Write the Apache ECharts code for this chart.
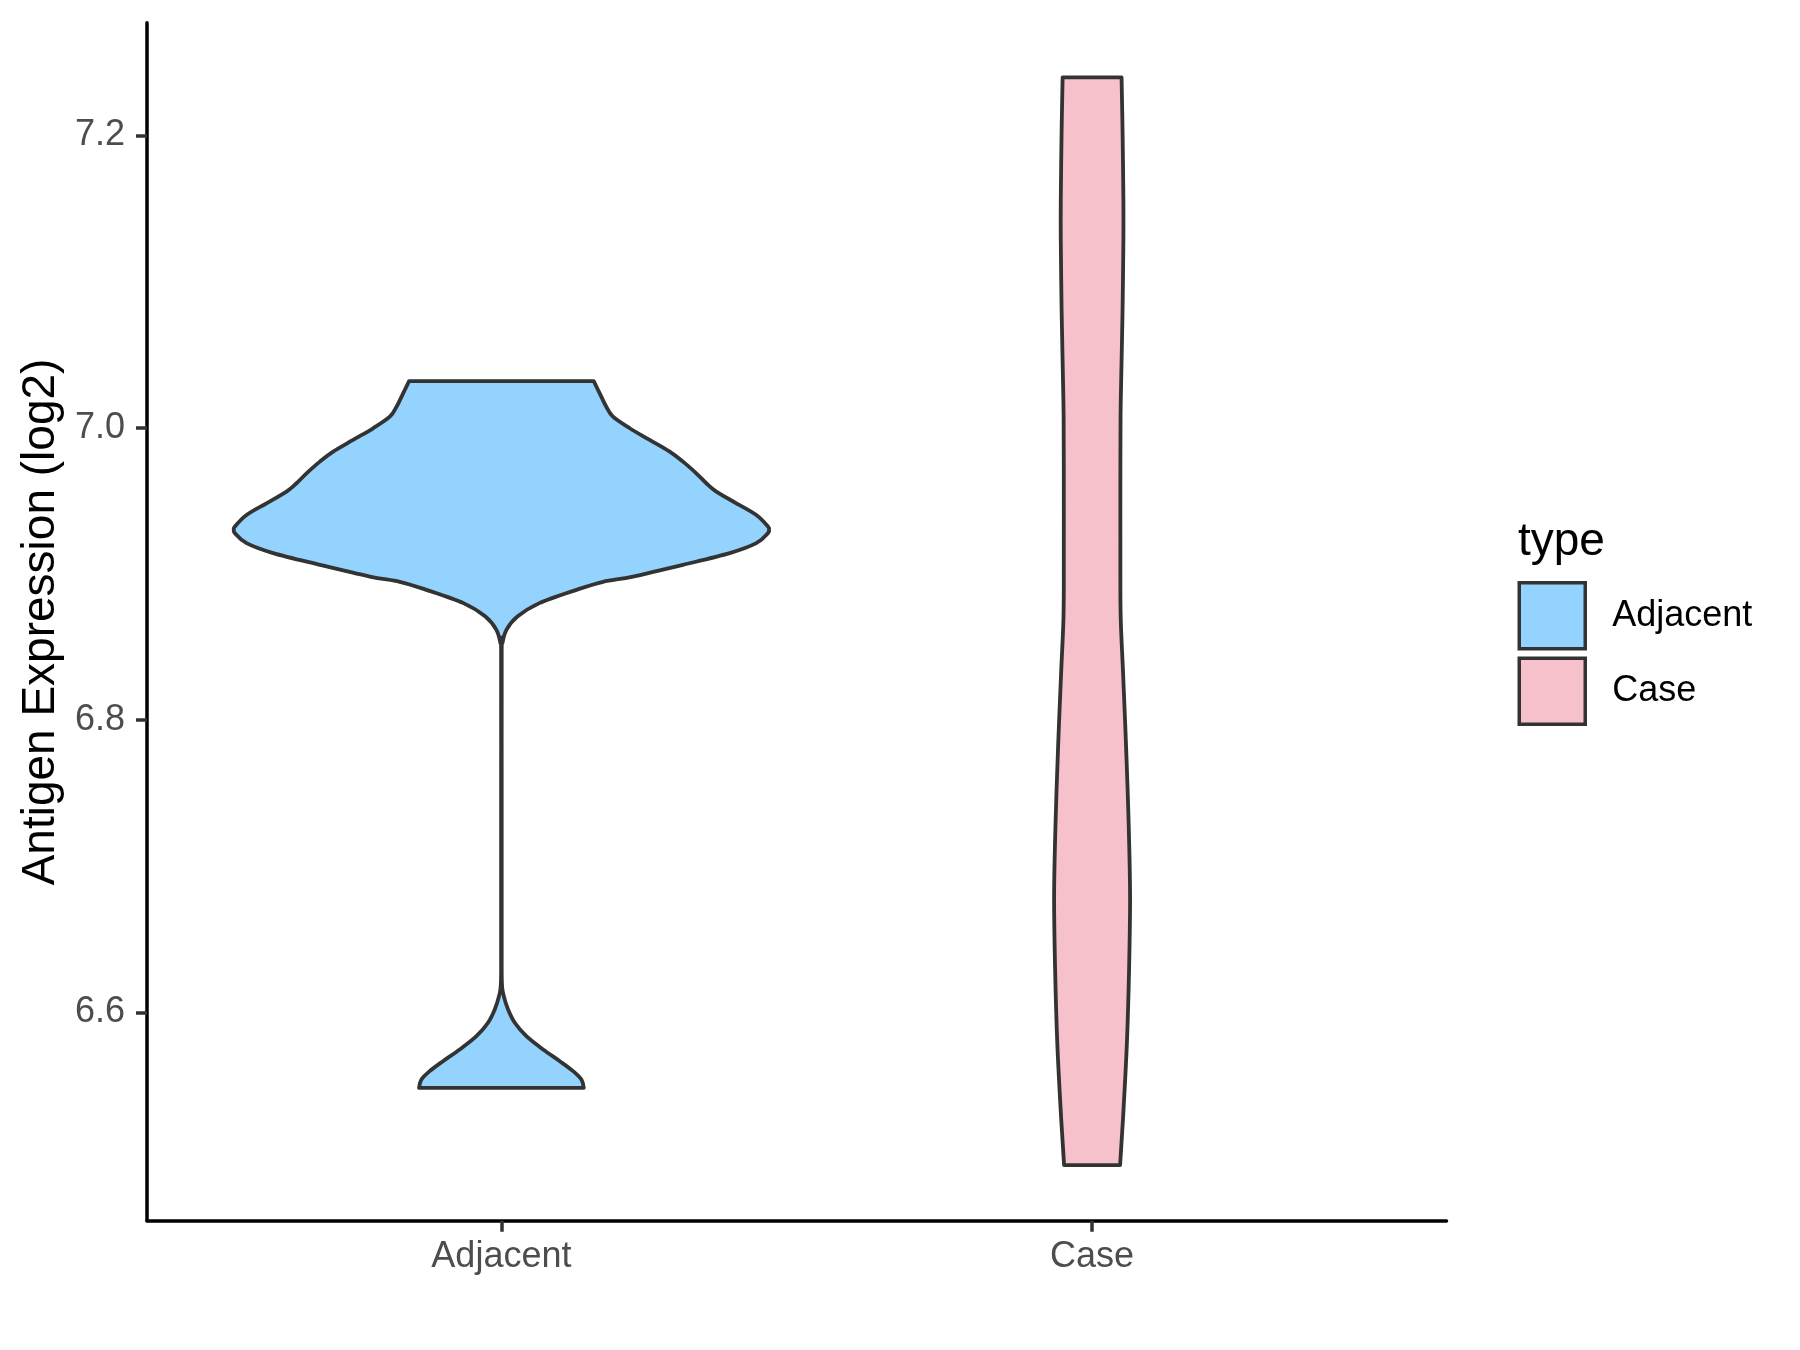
<!DOCTYPE html>
<html>
<head>
<meta charset="utf-8">
<script src="https://cdn.jsdelivr.net/npm/echarts@6/dist/echarts.min.js"></script>
<style>
html,body{margin:0;padding:0;background:#fff;}
#chart{width:1800px;height:1350px;}
</style>
</head>
<body>
<div id="chart"></div>
<script>
// ---- data ----
const categories = ['Adjacent', 'Case'];
const yTicks = [6.6, 6.8, 7.0, 7.2];
const yTitle = 'Antigen Expression (log2)';
const legendTitle = 'type';

// Violin profiles: expression value and half-width (in category units)
const adjacentValues = [7.0319, 7.0235, 7.0143, 7.0075, 6.9996, 6.9916, 6.9836, 6.9768, 6.9688, 6.9620,
  6.9563, 6.9483, 6.9403, 6.9324, 6.9301, 6.9279, 6.9210, 6.9142, 6.9062, 6.8982,
  6.8946, 6.8891, 6.8800, 6.8708, 6.8617, 6.8526, 6.8480, 6.7500, 6.6500, 6.6206,
  6.6112, 6.6021, 6.5930, 6.5838, 6.5747, 6.5667, 6.5599, 6.5542, 6.5485];
const adjacentWidths = [0.1563, 0.1664, 0.1776, 0.1889, 0.2172, 0.2511, 0.2849, 0.3074, 0.3299, 0.3469,
  0.3638, 0.3977, 0.4315, 0.4513, 0.4529, 0.4513, 0.4315, 0.3865, 0.3074, 0.2228,
  0.1720, 0.1270, 0.0643, 0.0271, 0.0085, 0.0017, 0.0005, 0.0005, 0.0005, 0.0008,
  0.0041, 0.0113, 0.0227, 0.0423, 0.0706, 0.0989, 0.1214, 0.1354, 0.1395];

const caseValues = [7.2396, 7.2027, 7.1556, 7.1283, 7.0804, 7.0435, 7.0073, 6.9581, 6.9096, 6.8707,
  6.8317, 6.7812, 6.7306, 6.6800, 6.6295, 6.5789, 6.5284, 6.4956];
const caseWidths = [0.0499, 0.0516, 0.0530, 0.0530, 0.0516, 0.0498, 0.0482, 0.0479, 0.0479, 0.0484,
  0.0525, 0.0576, 0.0618, 0.0643, 0.0626, 0.0589, 0.0525, 0.0474];

const fills = ['#93D3FE', '#F7C1CB'];
const FONT = '"Liberation Sans", Arial, Helvetica, sans-serif';

// Smooth curve (Catmull-Rom -> cubic Bezier) through already-projected pixel points
function curveThrough(pts) {
  let d = '';
  for (let i = 0; i < pts.length - 1; i++) {
    const p0 = pts[Math.max(0, i - 1)], p1 = pts[i], p2 = pts[i + 1], p3 = pts[Math.min(pts.length - 1, i + 2)];
    const c1 = [p1[0] + (p2[0] - p0[0]) / 6, p1[1] + (p2[1] - p0[1]) / 6];
    const c2 = [p2[0] - (p3[0] - p1[0]) / 6, p2[1] - (p3[1] - p1[1]) / 6];
    d += ' C' + c1[0].toFixed(2) + ' ' + c1[1].toFixed(2) + ' ' + c2[0].toFixed(2) + ' ' + c2[1].toFixed(2) + ' ' + p2[0].toFixed(2) + ' ' + p2[1].toFixed(2);
  }
  return d;
}

function violinSeries(idx, values, widths) {
  const center = idx + 1;
  return {
    type: 'custom',
    name: categories[idx],
    coordinateSystem: 'cartesian2d',
    clip: false,
    itemStyle: { color: fills[idx], borderColor: '#333333', borderWidth: 3.5 },
    data: values.map((v, i) => [center, v, widths[i]]),
    encode: { x: 0, y: 1 },
    renderItem: function (params, api) {
      if (params.dataIndex !== 0) return null;
      const left = [], right = [];
      for (let i = 0; i < values.length; i++) {
        left.push(api.coord([center - widths[i], values[i]]));
      }
      for (let i = values.length - 1; i >= 0; i--) {
        right.push(api.coord([center + widths[i], values[i]]));
      }
      let d = 'M' + left[0][0].toFixed(2) + ' ' + left[0][1].toFixed(2);
      d += curveThrough(left);
      d += ' L' + right[0][0].toFixed(2) + ' ' + right[0][1].toFixed(2);
      d += curveThrough(right);
      d += ' Z';
      return {
        type: 'path',
        shape: { pathData: d },
        style: { fill: fills[idx], stroke: '#333333', lineWidth: 3.8, lineJoin: 'round' }
      };
    }
  };
}

const chart = echarts.init(document.getElementById('chart'), null, { renderer: 'canvas' });
chart.setOption({
  backgroundColor: '#ffffff',
  animation: false,
  grid: { left: 147, top: 22.7, right: 353.5, bottom: 129.3, containLabel: false },
  xAxis: {
    type: 'value',
    min: 0.4, max: 2.6,
    splitLine: { show: false },
    axisLine: { show: true, onZero: false, lineStyle: { color: '#000000', width: 3.5 } },
    axisTick: { show: true, customValues: [1, 2], length: 11, lineStyle: { color: '#333333', width: 3.5 } },
    axisLabel: {
      show: true, customValues: [1, 2], margin: 18.5,
      formatter: v => categories[Math.round(v) - 1],
      color: '#4D4D4D', fontSize: 36, fontFamily: FONT
    }
  },
  yAxis: {
    type: 'value',
    min: 6.4576, max: 7.277,
    splitLine: { show: false },
    axisLine: { show: true, onZero: false, lineStyle: { color: '#000000', width: 3.5 } },
    axisTick: { show: true, customValues: yTicks, length: 11, lineStyle: { color: '#333333', width: 3.5 } },
    axisLabel: {
      show: true, customValues: yTicks, margin: 22,
      formatter: v => Number(v).toFixed(1),
      color: '#4D4D4D', fontSize: 36, fontFamily: FONT
    }
  },
  legend: {
    show: true,
    data: categories,
    orient: 'vertical',
    left: 1517.5, top: 581,
    padding: 0,
    itemWidth: 66, itemHeight: 66, itemGap: 6,
    icon: 'rect',
    itemStyle: { borderColor: '#333333', borderWidth: 3.5 },
    textStyle: { fontSize: 36, color: '#000000', fontFamily: FONT, padding: [0, 0, 0, 22] },
    selectedMode: false
  },
  graphic: [
    {
      type: 'text',
      x: 41.5, y: 622,
      rotation: Math.PI / 2,
      style: { text: yTitle, fontSize: 46, fill: '#000000', fontFamily: FONT, align: 'center', verticalAlign: 'middle' }
    },
    {
      type: 'text',
      x: 1518, y: 542.5,
      style: { text: legendTitle, fontSize: 46, fill: '#000000', fontFamily: FONT, align: 'left', verticalAlign: 'middle' }
    }
  ],
  series: [
    violinSeries(0, adjacentValues, adjacentWidths),
    violinSeries(1, caseValues, caseWidths)
  ]
});
</script>
</body>
</html>
